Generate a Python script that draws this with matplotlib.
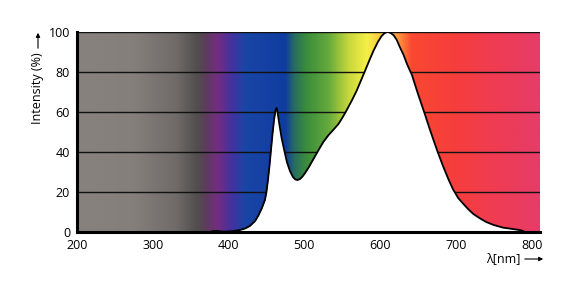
import numpy as np
import matplotlib
matplotlib.use("Agg")
import matplotlib.pyplot as plt
from matplotlib.colors import LinearSegmentedColormap

# Spectrum data (wavelength nm, relative intensity %)
wavelength = [375, 380, 384, 388, 395, 405, 415, 422, 428, 435, 439, 444, 448, 450,
              452, 454, 456, 458, 460, 462, 463.5, 465, 467, 470, 474, 477, 481, 485,
              488, 491, 494, 497, 501, 506, 512, 518, 525, 532, 538, 545, 550, 556,
              563, 569, 575, 580, 586, 591, 597, 602, 606, 610, 614, 618, 622, 626,
              631, 636, 642, 650, 659, 665, 670, 676, 683, 690, 696, 703, 710, 716,
              723, 731, 740, 750, 762, 775, 784, 788, 791]
intensity = [0, 0.5, 0.6, 0.3, 0.2, 0.4, 1, 1.8, 3, 5.5, 8, 12, 16, 20,
             26, 33, 41, 49, 56, 61, 62, 59, 54, 47, 40, 35, 30.5, 27.5,
             26.3, 26, 26.5, 27.5, 29.5, 32.5, 36.5, 40.5, 45, 48.5, 51, 54, 57, 61,
             66, 70.6, 76, 80.5, 86, 90.4, 95, 98, 99.5, 100, 99.5, 98.3, 96, 92.5,
             88.5, 83.5, 78.5, 69, 59, 52, 46.5, 40, 33, 26.5, 21.5, 17, 14, 11.5,
             9, 7, 5, 3.5, 2.2, 1.5, 1, 0.6, 0]

x_ticks = [200, 300, 400, 500, 600, 700, 800]
y_ticks = [0, 20, 40, 60, 80, 100]
x_min, x_max = 200, 811

# background spectrum colour stops (nm, rgb)
stop_nm = [200, 275, 330, 358, 370, 385, 405, 422, 475, 487, 503, 532, 559, 583,
           625, 642, 700, 750, 811]
stop_rgb = [(135, 130, 126), (132, 127, 123), (112, 107, 104), (82, 78, 78),
            (92, 60, 92), (115, 45, 130), (65, 50, 160), (25, 70, 165),
            (15, 60, 160), (40, 110, 95), (60, 140, 60), (100, 170, 60),
            (200, 215, 60), (245, 240, 70), (255, 150, 60), (250, 72, 50),
            (245, 62, 60), (240, 60, 82), (230, 60, 105)]

plt.rcParams['font.family'] = ['Open Sans', 'DejaVu Sans']
fs = 9

fig = plt.figure(figsize=(5.76, 2.82), dpi=100)
ax = fig.add_axes([77/576, 50/282, (540-77)/576, 200/282])

pos = [(n - x_min) / (x_max - x_min) for n in stop_nm]
cmap = LinearSegmentedColormap.from_list(
    "spec", list(zip(pos, [tuple(c/255 for c in rgb) for rgb in stop_rgb])))
grad = np.linspace(0, 1, 1000).reshape(1, -1)
ax.imshow(grad, cmap=cmap, aspect='auto', extent=[x_min, x_max, 0, 100],
          zorder=0, interpolation='bilinear')

for yv in y_ticks[1:]:
    ax.axhline(yv, color='#111111', lw=1.0, zorder=1)

ax.fill_between(wavelength, intensity, 0, color='white', zorder=2, lw=0)
ax.plot(wavelength, intensity, color='black', lw=1.3, zorder=3,
        solid_joinstyle='round')

ax.set_xlim(x_min, x_max)
ax.set_ylim(0, 100)
ax.set_xticks(x_ticks)
ax.set_yticks(y_ticks)
ax.tick_params(length=0, labelsize=fs)
ax.tick_params(axis='y', pad=5)
ax.tick_params(axis='x', pad=5)
for s in ['top', 'right']:
    ax.spines[s].set_visible(False)
for s in ['left', 'bottom']:
    ax.spines[s].set_linewidth(2.2)
    ax.spines[s].set_color('black')
    ax.spines[s].set_zorder(4)

# axis labels with arrows
fig.text(38/576, 1 - 88/282, "Intensity (%)", rotation=90, ha='center', va='center',
         fontsize=fs)
fig.patches.append(matplotlib.patches.FancyArrowPatch(
    (38/576, 1 - 51/282), (38/576, 1 - 30/282), transform=fig.transFigure,
    arrowstyle='-|>', mutation_scale=6, lw=0.8, color='black'))
fig.text(503/576, 1 - 259/282, "λ[nm]", ha='center', va='center', fontsize=fs)
fig.patches.append(matplotlib.patches.FancyArrowPatch(
    (522/576, 1 - 259/282), (546/576, 1 - 259/282), transform=fig.transFigure,
    arrowstyle='-|>', mutation_scale=6, lw=0.8, color='black'))

fig.savefig("out.png", dpi=100, facecolor='white')
